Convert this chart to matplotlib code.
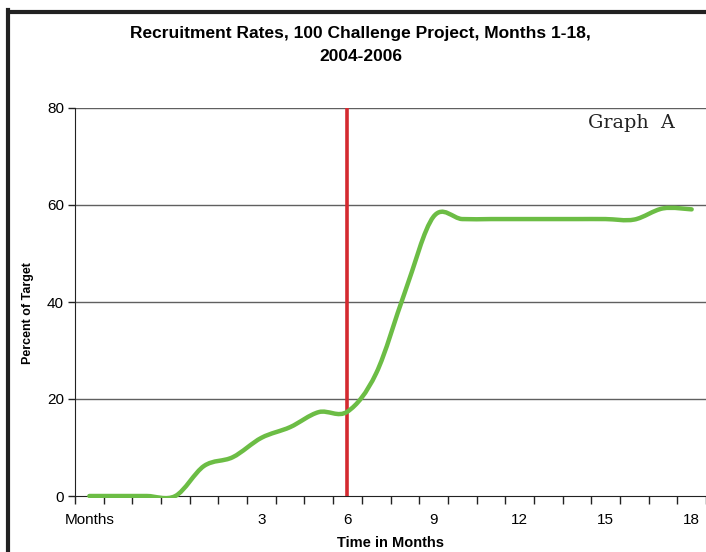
import numpy as np
import matplotlib
matplotlib.use("Agg")
import matplotlib.pyplot as plt
from matplotlib.path import Path
from matplotlib.patches import PathPatch, Rectangle
from matplotlib.lines import Line2D

# category labels along the x axis (22 slots, Excel style)
categories = ["Months", "", "", "", "", "", "3", "", "", "6", "", "",
              "9", "", "", "12", "", "", "15", "", "", "18"]

# percent of target per slot
recruit = [0.0, 0.0, 0.0, 0.0, 6.2, 8.0, 12.0, 14.2, 17.3, 17.4, 25.3,
           42.0, 57.6, 57.1, 57.1, 57.1, 57.1, 57.1, 57.1, 57.0, 59.3, 59.1]

marker_slot = 9   # start of the red marker line (month 6)
y_ticks = [0, 20, 40, 60, 80]


def smooth_path(xs, ys, t=1.0 / 6.0):
    # excel-like smoothed line: cubic bezier through every point
    pts = np.column_stack([xs, ys])
    verts = [pts[0]]
    codes = [Path.MOVETO]
    n = len(pts)
    for i in range(n - 1):
        p0 = pts[max(i - 1, 0)]
        p1 = pts[i]
        p2 = pts[i + 1]
        p3 = pts[min(i + 2, n - 1)]
        c1 = p1 + (p2 - p0) * t
        c2 = p2 - (p3 - p1) * t
        verts += [c1, c2, p2]
        codes += [Path.CURVE4] * 3
    return Path(verts, codes)


fig = plt.figure(figsize=(7.06, 5.52), dpi=100)
ax = fig.add_axes([75 / 706, 1 - 496 / 552, 1 - 75 / 706, (496 - 108) / 552])

xs = np.arange(len(recruit))
ax.set_xlim(-0.5, len(categories) - 0.5)
ax.set_ylim(0, 80)

# gridlines
for v in y_ticks[1:]:
    ax.axhline(v, color="#606060", lw=1.0, zorder=1)

# red marker line
ax.plot([marker_slot, marker_slot], [0, 80], color="#d42a30", lw=2.6, zorder=3,
        solid_capstyle="butt")

# smoothed green line
patch = PathPatch(smooth_path(xs, recruit), facecolor="none", edgecolor="#6cbd45",
                  lw=3.2, zorder=4, capstyle="round", joinstyle="round")
ax.add_patch(patch)
clip = Rectangle((-0.5, -0.45), len(categories), 82, transform=ax.transData)
patch.set_clip_path(clip)

# axes styling
for s in ["top", "right"]:
    ax.spines[s].set_visible(False)
ax.spines["left"].set_color("#222222")
ax.spines["bottom"].set_color("#222222")
ax.spines["left"].set_zorder(2)
ax.spines["bottom"].set_zorder(2)

ax.set_yticks(y_ticks)
ax.tick_params(axis="y", direction="out", length=5, width=1, color="#222222",
               labelsize=11, pad=3)

ax.set_xticks(np.arange(len(categories) + 1) - 0.5)
ax.set_xticklabels([])
ax.tick_params(axis="x", which="major", direction="out", length=6, width=1,
               color="#222222")
ax.set_xticks(xs, minor=True)
ax.set_xticklabels(categories, minor=True)
ax.tick_params(axis="x", which="minor", length=0, labelsize=11, pad=12)

for lab in ax.get_xticklabels(minor=True) + ax.get_yticklabels():
    lab.set_fontfamily("Liberation Sans")

ax.set_xlabel("Time in Months", fontsize=10.5, fontweight="bold",
              fontfamily="Liberation Sans")
ax.xaxis.set_label_coords(0.5, -(543 - 496) / 388, transform=ax.transAxes)
ax.xaxis.label.set_va("center")
ax.set_ylabel("Percent of Target", fontsize=9, fontweight="bold",
              fontfamily="Liberation Sans")
ax.yaxis.set_label_coords(-(75 - 28) / 631, (496 - 313) / 388, transform=ax.transAxes)
ax.yaxis.label.set_va("center")

fig.text(0.511, 1 - 45 / 552, "Recruitment Rates, 100 Challenge Project, Months 1-18,\n2004-2006",
         ha="center", va="center", fontsize=12.5, fontweight="bold",
         fontfamily="Liberation Sans", linespacing=1.65)

ax.text(0.95, 0.985, "Graph  A", transform=ax.transAxes, ha="right", va="top",
        fontsize=13.8, fontfamily="DejaVu Serif", color="#222222")

# outer frame (left and top edges)
fig.add_artist(Line2D([8 / 706, 8 / 706], [0, 1 - 10 / 552], color="#222222",
                      lw=3, transform=fig.transFigure, solid_capstyle="projecting"))
fig.add_artist(Line2D([8 / 706, 1], [1 - 12 / 552, 1 - 12 / 552], color="#222222",
                      lw=3, transform=fig.transFigure, solid_capstyle="butt"))

fig.savefig("out.png", dpi=100)
